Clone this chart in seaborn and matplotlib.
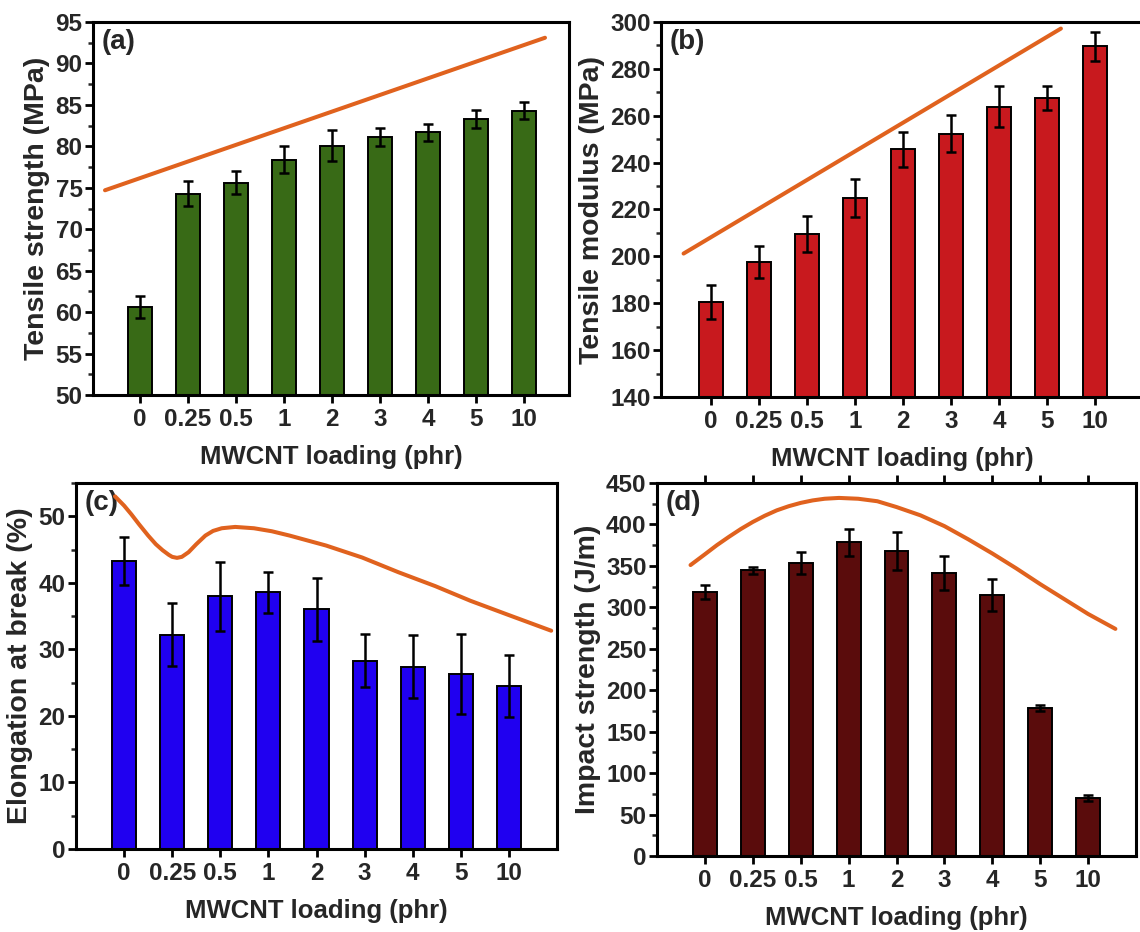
import numpy as np
import pandas as pd
import matplotlib
matplotlib.use("Agg")
import matplotlib.pyplot as plt
import seaborn as sns
from matplotlib.ticker import MultipleLocator

# ---------------- data ----------------
loading_labels = ["0", "0.25", "0.5", "1", "2", "3", "4", "5", "10"]

tensile_strength = [60.6, 74.3, 75.6, 78.4, 80.1, 81.1, 81.7, 83.3, 84.3]
tensile_strength_err = [1.3, 1.5, 1.4, 1.6, 1.9, 1.1, 1.0, 1.1, 1.05]

tensile_modulus = [180.5, 197.5, 209.7, 225.0, 245.7, 252.4, 263.8, 267.6, 289.6]
tensile_modulus_err = [7.3, 6.8, 7.7, 8.2, 7.5, 8.0, 8.7, 5.0, 6.2]

elongation = [43.3, 32.2, 38.0, 38.6, 36.0, 28.3, 27.4, 26.3, 24.5]
elongation_err = [3.6, 4.7, 5.2, 3.1, 4.7, 4.0, 4.7, 6.0, 4.7]

impact = [318.5, 344.7, 353.5, 378.5, 368.0, 341.0, 315.0, 178.5, 70.0]
impact_err = [8.0, 4.5, 13.0, 16.0, 23.0, 20.5, 19.0, 4.0, 4.0]

# trend curves (x in category-position units)
trend_a_x = [-0.73, 8.44]
trend_a_y = [74.7, 93.1]

trend_b_x = [-0.57, 7.29]
trend_b_y = [201.2, 297.2]

trend_c_x = [-0.19, 0.0, 0.15, 0.31, 0.5, 0.66, 0.8, 0.93, 1.0, 1.1, 1.2, 1.34,
             1.5, 1.69, 1.85, 2.03, 2.31, 2.7, 3.07, 3.44, 4.2, 4.95, 5.7, 6.47,
             7.2, 7.98, 8.88]
trend_c_y = [53.0, 51.6, 50.3, 48.8, 47.1, 45.8, 44.9, 44.2, 43.9, 43.75, 43.9,
             44.6, 45.8, 47.1, 47.8, 48.2, 48.4, 48.2, 47.75, 47.1, 45.6, 43.8,
             41.6, 39.5, 37.3, 35.2, 32.8]

trend_d_x = [-0.3, 0.0, 0.25, 0.5, 0.75, 1.0, 1.25, 1.5, 1.75, 2.0, 2.25, 2.5,
             2.8, 3.2, 3.6, 4.0, 4.5, 5.0, 5.5, 6.0, 6.5, 7.0, 7.5, 8.0, 8.57]
trend_d_y = [351, 364, 375, 385, 394.5, 403, 410.5, 417, 422, 426, 429, 431,
             432, 431, 428, 421, 411, 398, 382, 365, 347, 328, 310, 292, 274]

# ---------------- style ----------------
sns.set_style("ticks")
plt.rcParams["font.family"] = ["Liberation Sans", "DejaVu Sans"]
plt.rcParams["font.weight"] = "bold"
plt.rcParams["axes.labelweight"] = "bold"

ORANGE = "#E0621E"
W, H = 1140, 932
fig = plt.figure(figsize=(W / 100, H / 100), dpi=100)


def px_axes(left, right, top, bottom):
    return fig.add_axes([left / W, 1 - bottom / H, (right - left) / W, (bottom - top) / H])


def panel(ax, values, errs, color, tx, ty, ylabel, ylim, major, minor, letter,
          xlim, top_ticks=False, yticks_max=None):
    df = pd.DataFrame({"loading": loading_labels, "value": values})
    sns.barplot(data=df, x="loading", y="value", order=loading_labels, color=color,
                width=0.5, edgecolor="black", linewidth=1.4, saturation=1,
                errorbar=None, ax=ax, zorder=2)
    ax.errorbar(np.arange(len(values)), values, yerr=errs, fmt="none",
                ecolor="black", elinewidth=1.8, capsize=3.4, capthick=1.8, zorder=3)
    sns.lineplot(x=tx, y=ty, sort=False, color=ORANGE, linewidth=2.9, ax=ax,
                 zorder=4)
    ax.set_xlim(*xlim)
    ax.set_ylim(*ylim)
    ax.yaxis.set_major_locator(MultipleLocator(major))
    ax.yaxis.set_minor_locator(MultipleLocator(minor))
    if yticks_max is not None:
        ax.set_yticks([t for t in np.arange(ylim[0], yticks_max + 0.01, major)])
    for s in ax.spines.values():
        s.set_visible(True)
        s.set_linewidth(2.2)
        s.set_color("black")
    ax.tick_params(axis="both", which="major", direction="out", length=6,
                   width=2, labelsize=17.5, pad=1.5, color="black")
    ax.tick_params(axis="y", which="minor", direction="out", length=3.5,
                   width=1.8, left=True)
    ax.tick_params(axis="x", which="major", pad=3.5)
    if top_ticks:
        ax.tick_params(axis="x", which="major", top=True, labeltop=False)
    ax.set_xlabel("MWCNT loading (phr)", fontsize=18.5, labelpad=10)
    ax.set_ylabel(ylabel, fontsize=20.5, labelpad=4)
    ax.text(0.018, 0.98, letter, transform=ax.transAxes, ha="left", va="top",
            fontsize=20, fontweight="bold")
    for lbl in ax.get_xticklabels() + ax.get_yticklabels():
        lbl.set_fontweight("bold")


ax_a = px_axes(93, 569, 22, 395)
panel(ax_a, tensile_strength, tensile_strength_err, "#386A16", trend_a_x, trend_a_y,
      "Tensile strength (MPa)", (50, 95), 5, 2.5, "(a)", (-0.98, 8.94))

ax_b = px_axes(661, 1143, 22, 397)
panel(ax_b, tensile_modulus, tensile_modulus_err, "#C8191E", trend_b_x, trend_b_y,
      "Tensile modulus (MPa)", (140, 300), 20, 10, "(b)", (-1.04, 9.0))

ax_c = px_axes(76, 557, 483, 849)
panel(ax_c, elongation, elongation_err, "#2000F0", trend_c_x, trend_c_y,
      "Elongation at break (%)", (0, 55), 10, 5, "(c)", (-1.0, 9.0), yticks_max=50)

ax_d = px_axes(657, 1136, 483, 856)
panel(ax_d, impact, impact_err, "#5A0C0C", trend_d_x, trend_d_y,
      "Impact strength (J/m)", (0, 450), 50, 25, "(d)", (-1.0, 9.0), top_ticks=True)

fig.savefig("out.png", dpi=100)
